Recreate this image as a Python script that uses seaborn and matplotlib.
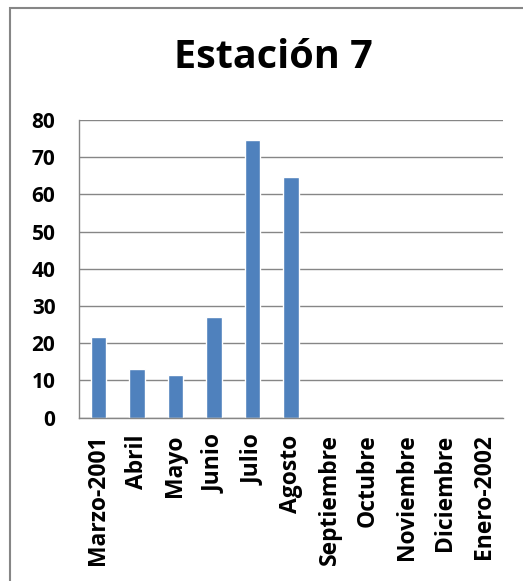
import numpy as np
import pandas as pd
import matplotlib
matplotlib.use("Agg")
import matplotlib.pyplot as plt
import seaborn as sns
from matplotlib.patches import Rectangle

# Monthly values for station 7
months = ["Marzo-2001", "Abril", "Mayo", "Junio", "Julio", "Agosto",
          "Septiembre", "Octubre", "Noviembre", "Diciembre", "Enero-2002"]
values = [21.8, 13.2, 11.4, 27.0, 74.6, 64.6,
          np.nan, np.nan, np.nan, np.nan, np.nan]
y_ticks = [0, 10, 20, 30, 40, 50, 60, 70, 80]

df = pd.DataFrame({"mes": months, "valor": values})

sns.set_theme(style="white")
plt.rcParams["font.family"] = ["Open Sans", "DejaVu Sans"]
plt.rcParams["font.weight"] = "bold"
plt.rcParams["text.color"] = "black"
plt.rcParams["xtick.color"] = "black"
plt.rcParams["ytick.color"] = "black"

fig = plt.figure(figsize=(5.23, 5.81), dpi=100)
ax = fig.add_axes([79 / 523, 1 - 417.7 / 581, (503 - 79) / 523, (417.7 - 120) / 581])

sns.barplot(data=df, x="mes", y="valor", order=months, color="#4F81BD",
            saturation=1, width=0.4, ax=ax, errorbar=None)

ax.set_ylim(0, 80)
ax.set_yticks(y_ticks)
ax.set_xlim(-0.5, len(months) - 0.5)
ax.set_xlabel("")
ax.set_ylabel("")
ax.yaxis.grid(True, color="#868686", linewidth=1.0)
ax.set_axisbelow(True)
for side in ["top", "right"]:
    ax.spines[side].set_visible(False)
for side in ["left", "bottom"]:
    ax.spines[side].set_color("#868686")
    ax.spines[side].set_linewidth(1.0)

ax.tick_params(axis="y", labelsize=15, pad=17, length=0, labelcolor="black")
ax.tick_params(axis="x", labelsize=16.5, pad=12, length=0, labelcolor="black")
for lbl in ax.get_xticklabels():
    lbl.set_rotation(90)
    lbl.set_fontweight("bold")
for lbl in ax.get_yticklabels():
    lbl.set_fontweight("bold")

fig.text(273 / 523, 1 - 58 / 581, "Estación 7", ha="center", va="center",
         fontsize=28.5, fontweight="bold", color="black")

# chart frame
fig.patches.append(Rectangle((10 / 523, -0.1), 1.2, 1 - 8 / 581 + 0.1,
                             transform=fig.transFigure, fill=False,
                             edgecolor="#868686", linewidth=1.5))

fig.savefig("out.png", dpi=100)
